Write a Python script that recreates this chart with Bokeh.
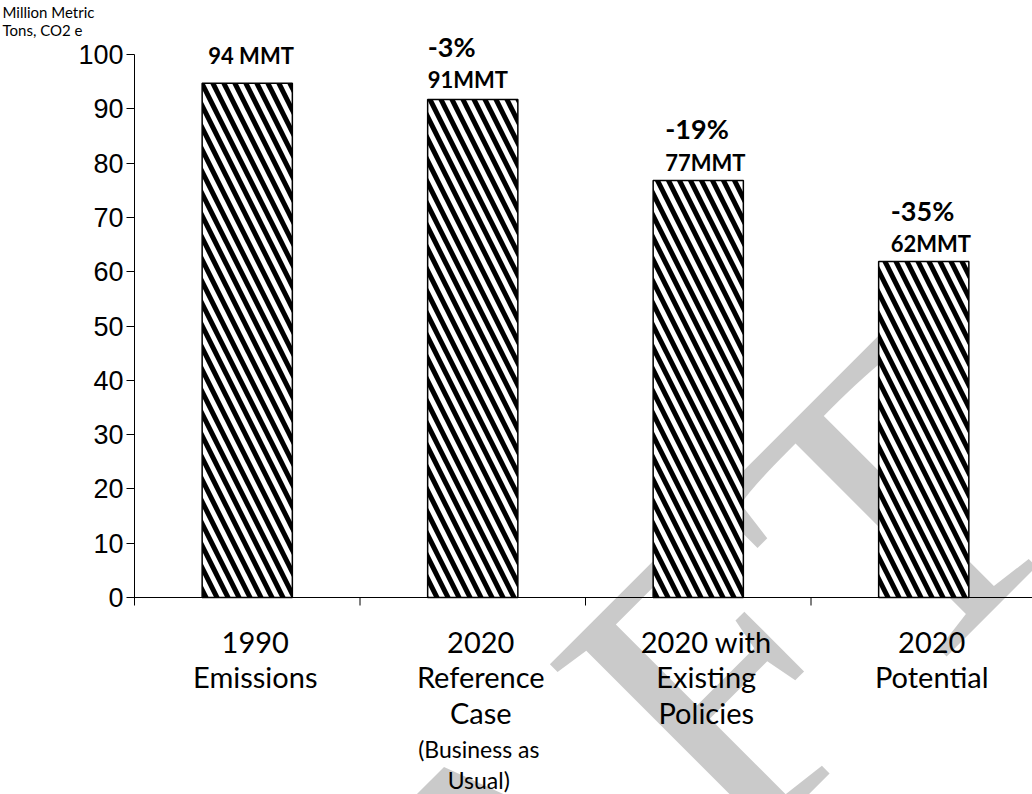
from bokeh.plotting import figure
from bokeh.models import Range1d, FixedTicker, Label, Span
from bokeh.embed import file_html
from bokeh.resources import INLINE

# ---------------- data ----------------
categories = ["1990\nEmissions", "2020\nReference\nCase", "2020 with\nExisting\nPolicies", "2020\nPotential"]
sub_labels = ["", "(Business as\nUsual)", "", ""]
emissions = [94.7, 91.7, 76.8, 61.9]
mmt_labels = ["94 MMT", "91MMT", "77MMT", "62MMT"]
pct_labels = ["", "-3%", "-19%", "-35%"]
y_ticks = [0, 10, 20, 30, 40, 50, 60, 70, 80, 90, 100]
y_title = "Million Metric\nTons, CO2 e"
watermark = "DRAFT"

# ---------------- styles / layout ----------------
mmt_dx = [-39, -45, -33, -33]     # px offset of label left edge from bar centre
mmt_dy = [28, 20, 18, 18]         # px above bar top
pct_dx = [0, -45, -33, -33]
pct_dy = [0, 53, 52, 51]

W, H = 1032, 794
LEFT, TOP = 134, 36
ZERO_Y, HUNDRED_Y = 597, 54          # canvas rows of y=0 and y=100
px_per_unit = (ZERO_Y - HUNDRED_Y) / 100.0
n = len(categories)
centers = [i + 0.5 for i in range(n)]
bounds = [float(i) for i in range(1, n)]
cat_px = 225.5
x_end = (W - LEFT) / cat_px
y_end = 100 + (HUNDRED_Y - TOP) / px_per_unit
y_start = -(H - ZERO_Y) / px_per_unit

p = figure(width=W, height=H, x_range=Range1d(0, x_end), y_range=Range1d(y_start, y_end),
           output_backend="svg", toolbar_location=None, x_axis_location=None,
           min_border_left=LEFT, min_border_right=0, min_border_top=TOP,
           min_border_bottom=0, outline_line_color=None,
           background_fill_color="white", border_fill_color="white")
p.grid.visible = False

# title (y unit) at top-left
p.title.text = y_title
p.title.align = "left"
p.title.offset = -(LEFT - 2)
p.title.standoff = -4
p.title.text_font = "Lato"
p.title.text_font_size = "15px"
p.title.text_font_style = "normal"
p.title.text_line_height = 1.0
p.title.text_color = "black"

# watermark (behind bars)
p.add_layout(Label(x=0, y=0, x_offset=495 - LEFT, y_offset=-(907 - ZERO_Y),
                   text=watermark, angle=45, angle_units="deg", text_align="center",
                   text_baseline="middle", text_font="Liberation Serif",
                   text_font_size="420px", text_color="#c4c4c4", text_alpha=0.9,
                   level="underlay"))

# bars
p.vbar(x=centers, top=emissions, bottom=0, width=0.4, fill_color="white",
       line_color="black", line_width=1.5, hatch_pattern="\\", hatch_color="black",
       hatch_weight=5, hatch_scale=22)

# y axis
ya = p.yaxis[0]
ya.ticker = FixedTicker(ticks=y_ticks)
ya.bounds = (-1.4, 100)
ya.major_label_text_font = "Liberation Sans"
ya.major_label_text_font_size = "27px"
ya.major_label_text_color = "black"
ya.major_tick_out = 8
ya.major_tick_in = 0
ya.minor_tick_line_color = None
ya.axis_line_color = "black"
ya.major_tick_line_color = "black"
ya.major_label_standoff = 3

# x axis line at zero and category boundary ticks
p.add_layout(Span(location=0, dimension="width", line_color="black", line_width=1))
tick_len = 8 / px_per_unit
p.segment(x0=bounds, y0=[0] * len(bounds), x1=bounds, y1=[-tick_len] * len(bounds),
          line_color="black", line_width=1)

# category labels
for c, t in zip(centers, categories):
    p.add_layout(Label(x=c, y=0, x_offset=8, y_offset=-26, text=t, text_align="center",
                       text_baseline="top", text_font="Lato", text_font_size="29px",
                       text_line_height=1.02, text_color="black"))
for c, t in zip(centers, sub_labels):
    if t:
        p.add_layout(Label(x=c, y=0, x_offset=6, y_offset=-137, text=t, text_align="center",
                           text_baseline="top", text_font="Lato", text_font_size="23px",
                           text_line_height=1.12, text_color="black"))

# value labels
for c, v, t, dx, dy in zip(centers, emissions, mmt_labels, mmt_dx, mmt_dy):
    p.add_layout(Label(x=c, y=v, x_offset=dx, y_offset=dy, text=t, text_align="left",
                       text_baseline="middle", text_font="Lato", text_font_style="bold",
                       text_font_size="22px", text_color="black"))
for c, v, t, dx, dy in zip(centers, emissions, pct_labels, pct_dx, pct_dy):
    if t:
        p.add_layout(Label(x=c, y=v, x_offset=dx, y_offset=dy, text=t, text_align="left",
                           text_baseline="middle", text_font="Lato", text_font_style="bold",
                           text_font_size="27px", text_color="black"))

open("out.html", "w").write(file_html(p, INLINE))
